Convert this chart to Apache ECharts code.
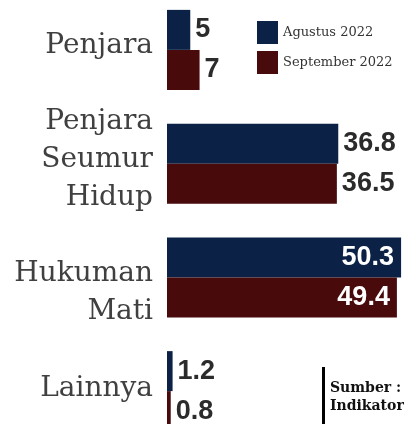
<html>
<head>
<meta charset="utf-8">
<script src="https://cdn.jsdelivr.net/npm/echarts@6/dist/echarts.min.js"></script>
<style>
 body{margin:0;background:#fff;}
 #main{width:417px;height:424px;}
</style>
</head>
<body>
<div id="main"></div>
<script>
    // data
    var categories = ['Penjara', 'Penjara\nSeumur\nHidup', 'Hukuman\nMati', 'Lainnya'];
    var agustus = [5, 36.8, 50.3, 1.2];
    var september = [7, 36.5, 49.4, 0.8];
    var seriesNames = ['Agustus 2022', 'September 2022'];
    var sourceText = 'Sumber :\nIndikator';

    var NAVY = '#0b2246';
    var MAROON = '#480a0b';
    var numFont = '"Liberation Sans", Arial, sans-serif';
    var serif = '"DejaVu Serif", serif';

    // geser label kategori sedikit (px, + ke bawah)
    var labelShift = [-4, -4, 15, -2];

    // Hukuman Mati punya label di dalam batang
    function toItems(arr) {
        return arr.map(function (v, i) {
            if (i == 2) {
                return {value: v, label: {position: 'insideRight', color: '#fff', distance: 7}};
            }
            return v;
        });
    }

    var myChart = echarts.init(document.getElementById('main'));
    var barLabel = {
        show: true,
        position: 'right',
        distance: 5,
        color: '#2b2b2b',
        fontFamily: numFont,
        fontWeight: 'bold',
        fontSize: 27
    };
    var rich = {
        n: {fontFamily: serif, fontSize: 28, lineHeight: 38, color: '#404040', align: 'right'}
    };
    labelShift.forEach(function (s, i) {
        rich['sp' + i] = {fontSize: 1, lineHeight: Math.abs(2 * s), height: Math.abs(2 * s)};
    });
    var option = {
        animation: false,
        grid: {left: 167, right: 8, top: -7, bottom: -24, outerBoundsMode: 'none'},
        legend: {
            orient: 'vertical',
            left: 257,
            top: 21,
            padding: 0,
            itemWidth: 21,
            itemHeight: 23,
            itemGap: 7,
            icon: 'rect',
            textStyle: {fontFamily: serif, fontSize: 13, color: '#333'},
            data: seriesNames
        },
        xAxis: {
            type: 'value',
            min: 0,
            max: 52,
            show: false
        },
        yAxis: {
            type: 'category',
            inverse: true,
            data: categories,
            axisLine: {show: false},
            axisTick: {show: false},
            axisLabel: {
                margin: 14,
                fontFamily: serif,
                fontSize: 28,
                lineHeight: 38,
                color: '#404040',
                align: 'right',
                // baris kosong tipis di atas/bawah untuk menggeser label
                formatter: function (value, index) {
                    var s = labelShift[index];
                    var lines = value.split('\n').map(function (ln) { return '{n|' + ln + '}'; });
                    var sp = '{sp' + index + '| }';
                    if (s > 0) lines.unshift(sp);
                    else if (s < 0) lines.push(sp);
                    return lines.join('\n');
                },
                rich: rich
            }
        },
        graphic: [
            {
                type: 'rect',
                shape: {x: 322, y: 367, width: 3, height: 57},
                style: {fill: '#000'}
            },
            {
                type: 'text',
                left: 330,
                top: 379,
                style: {
                    text: sourceText,
                    font: 'bold 14px ' + serif,
                    fill: '#111',
                    lineHeight: 18
                }
            }
        ],
        series: [
            {
                name: seriesNames[0],
                type: 'bar',
                barWidth: 40,
                barGap: '0%',
                itemStyle: {color: NAVY},
                label: barLabel,
                data: toItems(agustus)
            },
            {
                name: seriesNames[1],
                type: 'bar',
                barWidth: 40,
                barGap: '0%',
                itemStyle: {color: MAROON},
                label: barLabel,
                data: toItems(september)
            }
        ]
    };
    myChart.setOption(option);
    window.onresize = myChart.resize;
</script>
</body>
</html>
